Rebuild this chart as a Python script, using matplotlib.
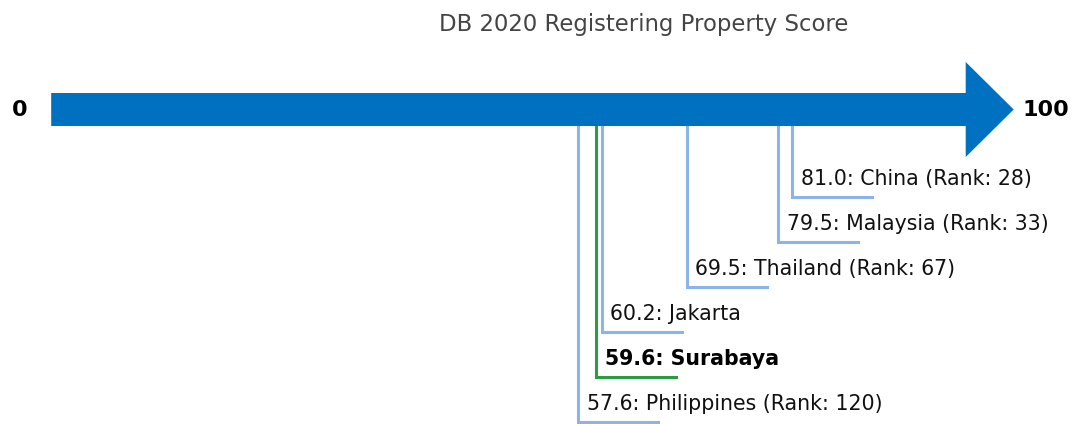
import matplotlib
matplotlib.use("Agg")
import matplotlib.pyplot as plt
from matplotlib.patches import FancyArrow

# ---- data ----
names = ["Philippines", "Surabaya", "Jakarta", "Thailand", "Malaysia", "China"]
scores = [57.6, 59.6, 60.2, 69.5, 79.5, 81.0]
ranks = [120, None, None, 67, 33, 28]
highlight = ["Surabaya"]
title = "DB 2020 Registering Property Score"
axis_min, axis_max = 0, 100

W, H = 1072, 424
fig = plt.figure(figsize=(W / 100, H / 100), dpi=100)
ax = fig.add_axes([0, 0, 1, 1])
px_per_unit = 9.145
x0_px = 51.2
ax.set_xlim(-x0_px / px_per_unit, (W - x0_px) / px_per_unit)
ax.set_ylim(H, 0)
ax.axis("off")

arrow_y = 109.5
arrow = FancyArrow(axis_min, arrow_y, (axis_max - axis_min) + 5.25, 0,
                   width=33, head_width=95, head_length=5.25,
                   length_includes_head=True, color="#0070c0", lw=0, zorder=3)
ax.add_patch(arrow)

ax.text(axis_min - 3.4, arrow_y, str(axis_min), fontsize=16, fontweight="bold",
        ha="center", va="center", color="black")
ax.text(axis_max + 8.8, arrow_y, str(axis_max), fontsize=16, fontweight="bold",
        ha="center", va="center", color="black")

blue = "#8db4ea"
green = "#2a9d44"
base_level = 422
step = 45
hlen = 8.75
for k, (n, s, r) in enumerate(zip(names, scores, ranks)):
    ly = base_level - step * k
    col = green if n in highlight else blue
    ax.plot([s, s, s + hlen], [arrow_y, ly, ly], color=col, lw=2.2,
            solid_joinstyle="miter", zorder=2)
    label = f"{s:.1f}: {n}" + (f" (Rank: {r})" if r is not None else "")
    ax.text(s + 0.95, ly - 12, label, fontsize=14.8, ha="left", va="baseline",
            color="black" if n in highlight else "#111111",
            fontweight="bold" if n in highlight else "normal")

fig.text(644 / W, 1 - 25 / H, title, fontsize=16.4, ha="center", va="center",
         color="#444444")

fig.savefig("out.png", dpi=100)
